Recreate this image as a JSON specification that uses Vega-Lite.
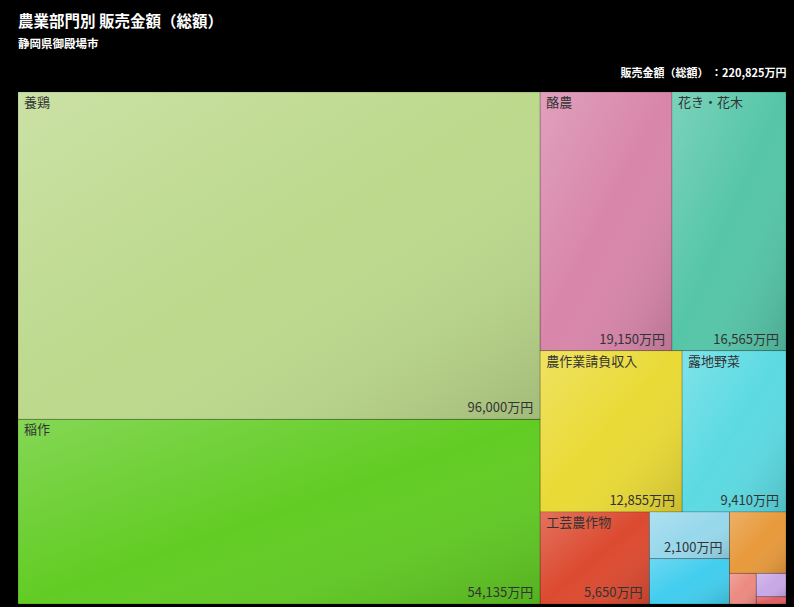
{
  "$schema": "https://vega.github.io/schema/vega-lite/v6.json",
  "width": 768,
  "height": 512,
  "autosize": "none",
  "padding": {"left": 18, "top": 92, "right": 8, "bottom": 3},
  "background": "#000000",
  "title": {
    "text": "農業部門別 販売金額（総額）",
    "subtitle": "静岡県御殿場市",
    "anchor": "start",
    "frame": "group",
    "font": "Noto Sans CJK JP",
    "subtitleFont": "Noto Sans CJK JP",
    "fontSize": 15.5,
    "subtitleFontSize": 11.5,
    "fontWeight": "bold",
    "subtitleFontWeight": "bold",
    "color": "#ffffff",
    "subtitleColor": "#ffffff",
    "offset": 17,
    "subtitlePadding": 8
  },
  "data": {
    "values": [
      {"name": "養鶏", "value": 96000, "k1": "1", "k2": "1", "k3": "1", "k4": "1", "k5": "1", "k6": "1"},
      {"name": "稲作", "value": 54135, "k1": "1", "k2": "2", "k3": "1", "k4": "1", "k5": "1", "k6": "1"},
      {"name": "酪農", "value": 19150, "k1": "2", "k2": "1", "k3": "1", "k4": "1", "k5": "1", "k6": "1"},
      {"name": "花き・花木", "value": 16565, "k1": "2", "k2": "1", "k3": "2", "k4": "1", "k5": "1", "k6": "1"},
      {"name": "農作業請負収入", "value": 12855, "k1": "2", "k2": "2", "k3": "1", "k4": "1", "k5": "1", "k6": "1"},
      {"name": "露地野菜", "value": 9410, "k1": "2", "k2": "2", "k3": "2", "k4": "1", "k5": "1", "k6": "1"},
      {"name": "工芸農作物", "value": 5650, "k1": "2", "k2": "3", "k3": "1", "k4": "1", "k5": "1", "k6": "1"},
      {"name": "施設野菜", "value": 2100, "k1": "2", "k2": "3", "k3": "2", "k4": "1", "k5": "1", "k6": "1"},
      {"name": "雑穀・いも類・豆類", "value": 2040, "k1": "2", "k2": "3", "k3": "2", "k4": "2", "k5": "1", "k6": "1"},
      {"name": "果樹類", "value": 1950, "k1": "2", "k2": "3", "k3": "3", "k4": "1", "k5": "1", "k6": "1"},
      {"name": "肉用牛", "value": 460, "k1": "2", "k2": "3", "k3": "3", "k4": "2", "k5": "1", "k6": "1"},
      {"name": "その他の作物", "value": 390, "k1": "2", "k2": "3", "k3": "3", "k4": "2", "k5": "2", "k6": "1"},
      {"name": "麦類作", "value": 120, "k1": "2", "k2": "3", "k3": "3", "k4": "2", "k5": "2", "k6": "2"}
    ]
  },
  "transform": [
    {"calculate": "'r'", "as": "root"},
    {"joinaggregate": [{"op": "sum", "field": "value", "as": "t0"}]},
    {"stack": "value", "groupby": ["root"], "sort": [{"field": "k1", "order": "ascending"}], "as": ["s1", "e1"]},
    {"joinaggregate": [{"op": "min", "field": "s1", "as": "a1"}, {"op": "max", "field": "e1", "as": "b1"}, {"op": "sum", "field": "value", "as": "t1"}], "groupby": ["k1"]},
    {"calculate": "datum.a1 / datum.t0", "as": "X0a"},
    {"calculate": "datum.b1 / datum.t0", "as": "X1a"},
    {"stack": "value", "groupby": ["k1"], "sort": [{"field": "k2", "order": "ascending"}], "as": ["s2", "e2"]},
    {"joinaggregate": [{"op": "min", "field": "s2", "as": "a2"}, {"op": "max", "field": "e2", "as": "b2"}, {"op": "sum", "field": "value", "as": "t2"}], "groupby": ["k1", "k2"]},
    {"calculate": "datum.a2 / datum.t1", "as": "Y0a"},
    {"calculate": "datum.b2 / datum.t1", "as": "Y1a"},
    {"stack": "value", "groupby": ["k1", "k2"], "sort": [{"field": "k3", "order": "ascending"}], "as": ["s3", "e3"]},
    {"joinaggregate": [{"op": "min", "field": "s3", "as": "a3"}, {"op": "max", "field": "e3", "as": "b3"}, {"op": "sum", "field": "value", "as": "t3"}], "groupby": ["k1", "k2", "k3"]},
    {"calculate": "datum.X0a + (datum.X1a - datum.X0a) * datum.a3 / datum.t2", "as": "X0b"},
    {"calculate": "datum.X0a + (datum.X1a - datum.X0a) * datum.b3 / datum.t2", "as": "X1b"},
    {"stack": "value", "groupby": ["k1", "k2", "k3"], "sort": [{"field": "k4", "order": "ascending"}], "as": ["s4", "e4"]},
    {"joinaggregate": [{"op": "min", "field": "s4", "as": "a4"}, {"op": "max", "field": "e4", "as": "b4"}, {"op": "sum", "field": "value", "as": "t4"}], "groupby": ["k1", "k2", "k3", "k4"]},
    {"calculate": "datum.Y0a + (datum.Y1a - datum.Y0a) * datum.a4 / datum.t3", "as": "Y0b"},
    {"calculate": "datum.Y0a + (datum.Y1a - datum.Y0a) * datum.b4 / datum.t3", "as": "Y1b"},
    {"stack": "value", "groupby": ["k1", "k2", "k3", "k4"], "sort": [{"field": "k5", "order": "ascending"}], "as": ["s5", "e5"]},
    {"joinaggregate": [{"op": "min", "field": "s5", "as": "a5"}, {"op": "max", "field": "e5", "as": "b5"}, {"op": "sum", "field": "value", "as": "t5"}], "groupby": ["k1", "k2", "k3", "k4", "k5"]},
    {"calculate": "datum.X0b + (datum.X1b - datum.X0b) * datum.a5 / datum.t4", "as": "X0"},
    {"calculate": "datum.X0b + (datum.X1b - datum.X0b) * datum.b5 / datum.t4", "as": "X1"},
    {"stack": "value", "groupby": ["k1", "k2", "k3", "k4", "k5"], "sort": [{"field": "k6", "order": "ascending"}], "as": ["s6", "e6"]},
    {"joinaggregate": [{"op": "min", "field": "s6", "as": "a6"}, {"op": "max", "field": "e6", "as": "b6"}], "groupby": ["k1", "k2", "k3", "k4", "k5", "k6"]},
    {"calculate": "datum.Y0b + (datum.Y1b - datum.Y0b) * datum.a6 / datum.t5", "as": "Y0"},
    {"calculate": "datum.Y0b + (datum.Y1b - datum.Y0b) * datum.b6 / datum.t5", "as": "Y1"},
    {"calculate": "format(datum.value, ',') + '万円'", "as": "label"}
  ],
  "layer": [
    {
      "mark": {"type": "rect", "stroke": "rgba(0,0,0,0.18)", "strokeWidth": 1},
      "encoding": {
        "x": {
          "field": "X0", "type": "quantitative",
          "scale": {"domain": [0, 1], "nice": false, "zero": false},
          "axis": {
            "orient": "top", "labels": false, "ticks": false, "domain": false, "grid": false,
            "title": "販売金額（総額） ：220,825万円",
            "titleAnchor": "end", "titleColor": "#ffffff", "titleFont": "Noto Sans CJK JP",
            "titleFontSize": 11, "titleFontWeight": "bold", "titlePadding": 14
          }
        },
        "x2": {"field": "X1"},
        "y": {"field": "Y0", "type": "quantitative", "scale": {"domain": [0, 1], "nice": false, "zero": false, "reverse": true}, "axis": null},
        "y2": {"field": "Y1"},
        "color": {
          "field": "name", "type": "nominal", "legend": null,
          "scale": {
            "domain": ["養鶏", "稲作", "酪農", "花き・花木", "農作業請負収入", "露地野菜", "工芸農作物", "施設野菜", "雑穀・いも類・豆類", "果樹類", "肉用牛", "その他の作物", "麦類作"],
            "range": ["#bcd98c", "#62cc24", "#d886aa", "#56c6a8", "#eada36", "#5cdae2", "#dc4a30", "#98d8ec", "#42cdee", "#e89a3c", "#ec8a80", "#c8a8e8", "#e06060"]
          }
        }
      }
    },
    {
      "mark": {
        "type": "rect",
        "fill": {"gradient": "linear", "x1": 0, "y1": 0, "x2": 1, "y2": 1,
          "stops": [{"offset": 0, "color": "rgba(255,255,255,0.22)"}, {"offset": 0.5, "color": "rgba(255,255,255,0)"}, {"offset": 1, "color": "rgba(0,0,0,0.14)"}]}
      },
      "encoding": {
        "x": {"field": "X0", "type": "quantitative"},
        "x2": {"field": "X1"},
        "y": {"field": "Y0", "type": "quantitative"},
        "y2": {"field": "Y1"}
      }
    },
    {
      "transform": [{"filter": "datum.value >= 5000"}],
      "mark": {"type": "text", "align": "left", "baseline": "top", "dx": 6, "dy": 5, "font": "Noto Sans CJK JP", "fontSize": 13, "color": "#333333"},
      "encoding": {
        "x": {"field": "X0", "type": "quantitative"},
        "y": {"field": "Y0", "type": "quantitative"},
        "text": {"field": "name"}
      }
    },
    {
      "transform": [{"filter": "datum.value >= 2100"}],
      "mark": {"type": "text", "align": "right", "baseline": "bottom", "dx": -7, "dy": -4, "font": "Noto Sans CJK JP", "fontSize": 13, "color": "#333333"},
      "encoding": {
        "x": {"field": "X1", "type": "quantitative"},
        "y": {"field": "Y1", "type": "quantitative"},
        "text": {"field": "label"}
      }
    }
  ],
  "config": {"view": {"stroke": null}}
}
